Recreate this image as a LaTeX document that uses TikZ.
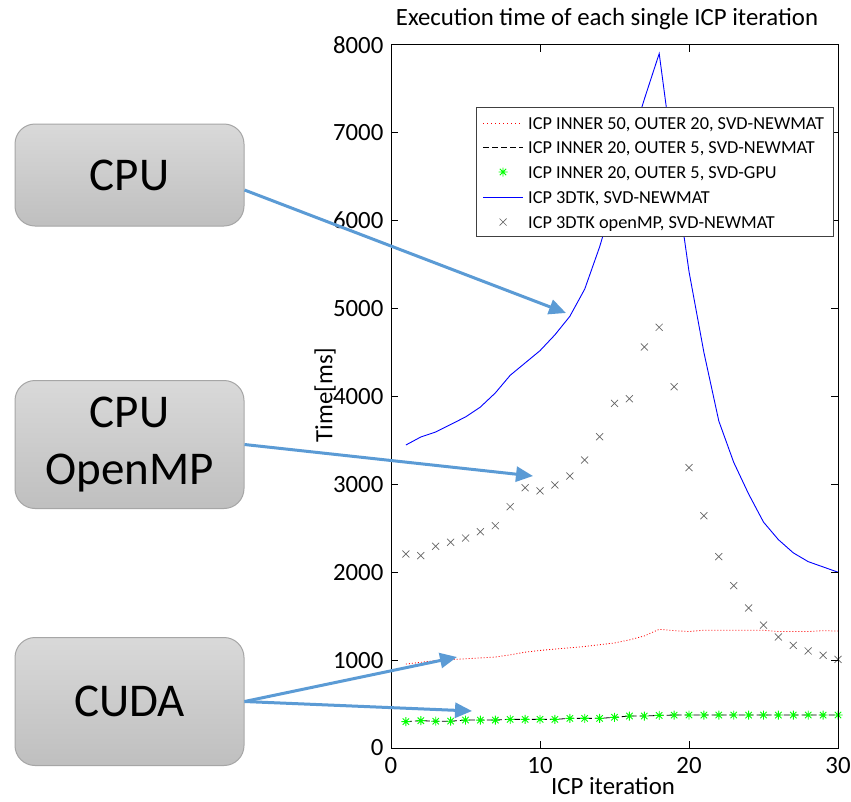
\documentclass[tikz,border=0pt]{standalone}
\usepackage{fontspec}
\setmainfont{Carlito}
\usetikzlibrary{arrows.meta}
\definecolor{callout}{RGB}{91,155,213}
\definecolor{boxedge}{RGB}{166,166,166}
\definecolor{boxtop}{RGB}{217,217,217}
\definecolor{boxbot}{RGB}{191,191,191}
\definecolor{pureblue}{RGB}{0,0,255}
\definecolor{purered}{RGB}{255,0,0}
\definecolor{puregreen}{RGB}{0,255,0}
\tikzset{
    procbox/.style={draw=boxedge, line width=1pt, rounded corners=20pt, top color=boxtop, bottom color=boxbot,
        minimum width=229pt, align=center, font=\fontsize{47}{57}\selectfont},
    pointer/.style={draw=callout, line width=3pt, -{Triangle[length=17pt,width=15pt,fill=callout]}},
    ticklabel/.style={font=\fontsize{24.8}{30}\selectfont, inner sep=0pt},
    legtext/.style={font=\fontsize{18.3}{22}\selectfont, anchor=base west, inner sep=0pt},
    redline/.style={draw=purered, line width=0.8pt, dash pattern=on 1pt off 2pt},
    blackline/.style={draw=black, line width=0.8pt, dash pattern=on 6pt off 3pt},
    blueline/.style={draw=pureblue, line width=0.9pt},
    xmark/.pic={\draw[draw=black!60, line width=0.7pt] (-3.5pt,-3.5pt) -- (3.5pt,3.5pt) (-3.5pt,3.5pt) -- (3.5pt,-3.5pt);},
    gstar/.pic={\draw[draw=puregreen, line width=0.9pt] (-4.5pt,0pt) -- (4.5pt,0pt) (0pt,-4.5pt) -- (0pt,4.5pt)
        (-3.2pt,-3.2pt) -- (3.2pt,3.2pt) (-3.2pt,3.2pt) -- (3.2pt,-3.2pt);}
}
\begin{document}
\begin{tikzpicture}[x=1pt, y=-1pt]
    \useasboundingbox (0,0) rectangle (851,801);
    \fill[white] (0,0) rectangle (851,801);
    \node[procbox, minimum height=102pt] (cpu) at (129.5,175) {CPU};
    \node[procbox, minimum height=128pt] (omp) at (129.5,444.5) {CPU\\OpenMP};
    \node[procbox, minimum height=128pt] (cuda) at (129.5,701.5) {CUDA};
    \begin{scope}[shift={(391,748)}, x=14.9pt, y=0.0879pt]
        \draw[redline] plot coordinates {(1,955) (2,975) (3,995) (4,1005) (5,1015) (6,1025) (7,1035) (8,1060)
            (9,1090) (10,1110) (11,1125) (12,1140) (13,1155) (14,1175) (15,1195) (16,1230) (17,1275) (18,1350)
            (19,1335) (20,1325) (21,1340) (22,1340) (23,1340) (24,1340) (25,1340) (26,1325) (27,1325) (28,1325)
            (29,1335) (30,1330)};
        \draw[blackline] plot coordinates {(1,300) (2,311) (3,305) (4,305) (5,318) (6,318) (7,318) (8,326)
            (9,326) (10,326) (11,326) (12,337) (13,337) (14,337) (15,349) (16,364) (17,364) (18,371) (19,375)
            (20,375) (21,375) (22,375) (23,375) (24,375) (25,375) (26,375) (27,375) (28,375) (29,375) (30,375)};
        \foreach \x/\y in {1/300,2/311,3/305,4/305,5/318,6/318,7/318,8/326,9/326,10/326,11/326,12/337,13/337,
            14/337,15/349,16/364,17/364,18/371,19/375,20/375,21/375,22/375,23/375,24/375,25/375,26/375,27/375,
            28/375,29/375,30/375}
            \pic at (\x,\y) {gstar};
        \draw[blueline] plot coordinates {(1,3447) (2,3538) (3,3595) (4,3680) (5,3766) (6,3879) (7,4039)
            (8,4240) (9,4380) (10,4520) (11,4700) (12,4910) (13,5220) (14,5700) (15,6270) (16,6830) (17,7380)
            (18,7900) (19,6620) (20,5420) (21,4500) (22,3720) (23,3250) (24,2890) (25,2570) (26,2370) (27,2220)
            (28,2120) (29,2060) (30,2000)};
        \foreach \x/\y in {1/2207,2/2188,3/2295,4/2340,5/2389,6/2461,7/2529,8/2745,9/2961,10/2924,11/2992,
            12/3094,13/3276,14/3541,15/3921,16/3974,17/4562,18/4786,19/4110,20/3189,21/2643,22/2177,23/1847,
            24/1593,25/1399,26/1263,27/1168,28/1104,29/1055,30/1009}
            \pic at (\x,\y) {xmark};
        \draw[line width=1pt] (0,0) rectangle (30,8000);
        \foreach \y in {0,1000,...,8000} {
            \draw[line width=1pt] (0,\y) -- ++(7pt,0pt);
            \draw[line width=1pt] (30,\y) -- ++(-7pt,0pt);
            \node[ticklabel, anchor=east] (yt\y) at (-0.5,\y) {\y};
        }
        \foreach \x in {10,20} {
            \draw[line width=1pt] (\x,0) -- ++(0pt,7pt);
            \draw[line width=1pt] (\x,8000) -- ++(0pt,-7pt);
        }
        \foreach \x in {0,10,20,30}
            \node[ticklabel, anchor=base, yshift=-25pt] (xt\x) at (\x,0) {\x};
    \end{scope}
    \node[ticklabel, anchor=base] (title) at (607,25) {Execution time of each single ICP iteration};
    \node[ticklabel, anchor=base] (xlabel) at (613,794) {ICP iteration};
    \node[ticklabel, rotate=90] (ylabel) at (325,395) {Time[ms]};
    \node[draw=black!75, fill=white, line width=0.8pt, minimum width=357pt, minimum height=129pt,
        inner sep=0pt] (legend) at (654.5,171.5) {};
    \draw[draw=purered, line width=1pt, dash pattern=on 1pt off 3pt] (483,123.5) -- (523,123.5);
    \draw[blackline] (483,147.5) -- (523,147.5);
    \pic at (503,172) {gstar};
    \draw[draw=pureblue, line width=1pt] (483,197.5) -- (523,197.5);
    \pic at (503,222) {xmark};
    \foreach \y/\t [count=\i] in {129/{ICP INNER 50, OUTER 20, SVD-NEWMAT},
        153/{ICP INNER 20, OUTER 5, SVD-NEWMAT}, 178/{ICP INNER 20, OUTER 5, SVD-GPU},
        203/{ICP 3DTK, SVD-NEWMAT}, 228/{ICP 3DTK openMP, SVD-NEWMAT}}
        \node[legtext] (leg\i) at (528,\y) {\t};
    \coordinate (tipcpu) at (566,313);
    \coordinate (tipomp) at (533,476);
    \coordinate (tipred) at (457,657);
    \coordinate (tipgpu) at (472,711);
    \draw[pointer] ([yshift=-15pt]cpu.east) -- (tipcpu);
    \draw[pointer] (omp.east) -- (tipomp);
    \draw[pointer] (cuda.east) -- (tipred);
    \draw[pointer] (cuda.east) -- (tipgpu);
\end{tikzpicture}
\end{document}
